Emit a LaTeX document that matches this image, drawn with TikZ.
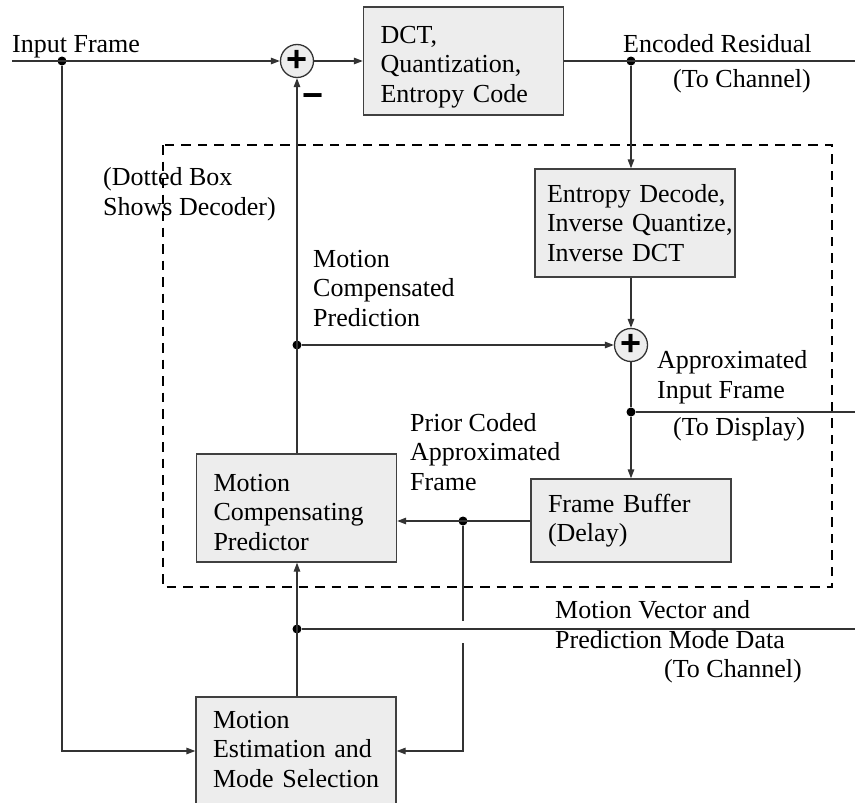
\documentclass[tikz,border=0pt]{standalone}
\usepackage{fontspec}
\setmainfont{Liberation Serif}
\newfontfamily\symfont{Liberation Sans}
\usetikzlibrary{arrows.meta}
\newcommand\nohyph{\hyphenpenalty=10000\exhyphenpenalty=10000\relax}
\begin{document}
\begin{tikzpicture}[x=1pt,y=-1pt,
  font=\fontsize{26}{29.5}\selectfont,
  line/.style={line width=1.3pt, draw=black!80},
  arr/.style={line, -{Triangle[length=9pt,width=6.5pt]}},
  blk/.style={draw=black!75, line width=1.3pt, fill=black!7, align=left,
    inner xsep=17pt, text width=166pt, minimum height=108pt, text height=20pt,
    execute at begin node=\nohyph},
  sum/.style={circle, draw=black!80, line width=1.3pt, fill=black!7, minimum size=33pt,
    inner sep=0pt, font=\symfont\bfseries\fontsize{36}{36}\selectfont},
  dot/.style={circle, fill=black, inner sep=0pt, minimum size=9pt},
  lbl/.style={anchor=base west, align=left, inner sep=0pt},
  frame/.style={line width=2pt, dash pattern=on 9.5pt off 7pt}
]
\useasboundingbox (0,0) rectangle (855,803);
\clip (0,0) rectangle (855,803);

% blocks
\node[blk, text depth=56pt] (dct) at (463.5,61) {DCT,\\Quantization,\\Entropy~Code};
\node[blk, inner xsep=12pt, text width=176pt, text depth=62pt] (ed) at (635,223)
  {Entropy~Decode,\\Inverse~Quantize,\\Inverse~DCT};
\node[blk, minimum height=83pt, text depth=37pt] (fb) at (631,520.5) {Frame~Buffer\\(Delay)};
\node[blk, text depth=54pt] (mcp) at (296.5,508) {Motion\\Compensating\\Predictor};
\node[blk, text depth=66pt] (me) at (296,751) {Motion\\Estimation~and\\Mode~Selection};

% summing junctions
\node[sum] (p1) at (297,61) {\raisebox{-1.5pt}{+}};
\node[sum] (p2) at (631,345) {\raisebox{-1.5pt}{+}};
\node[font=\symfont\bfseries\fontsize{36}{36}\selectfont, inner sep=0pt] (minus) at (313.5,101) {−};

% dots
\node[dot] (dIn) at (62,61) {};
\node[dot] (dER) at (631,61) {};
\node[dot] (dMCP) at (297,345) {};
\node[dot] (dAIF) at (631,412) {};
\node[dot] (dPC) at (463,521) {};
\node[dot] (dMV) at (297,629) {};

% free ends
\coordinate (inL) at (12,61);
\coordinate (erR) at (855,61);
\coordinate (aifR) at (855,412);
\coordinate (mvR) at (855,629);
\coordinate (gapT) at (463,621);
\coordinate (gapB) at (463,643);

% dashed decoder box
\draw[frame] (163,145) rectangle (832,587);

% connectors
\draw[arr] (inL) -- (p1.west);
\draw[arr] (dIn) |- (me.west);
\draw[arr] (p1.east) -- (dct.west |- p1.east);
\draw[line] (dct.east |- p1.east) -- (erR);
\draw[arr] (dER) -- (dER |- ed.north);
\draw[arr] (ed.south -| p2) -- (p2.north);
\draw[arr] (dMCP) -- (p2.west);
\draw[arr] (mcp.north -| dMCP) -- (p1.south);
\draw[line] (p2.south) -- (dAIF);
\draw[line] (dAIF) -- (aifR);
\draw[arr] (dAIF) -- (dAIF |- fb.north);
\draw[arr] (fb.west |- dPC) -- (mcp.east |- dPC);
\draw[line] (dPC) -- (gapT);
\draw[arr] (gapB) |- (me.east);
\draw[arr] (dMV |- me.north) -- (dMV |- mcp.south);
\draw[line] (dMV) -- (mvR);

% labels
\node[lbl] (tIn) at (12,52) {Input Frame};
\node[lbl] (tER) at (623,52) {Encoded Residual};
\node[lbl] (tERc) at (673,87) {(To Channel)};
\node[lbl] (tDB) at (103,215) {(Dotted Box\\Shows Decoder)};
\node[lbl] (tMCP) at (313,326) {Motion\\Compensated\\Prediction};
\node[lbl] (tAIF) at (657,398) {Approximated\\Input Frame};
\node[lbl] (tDisp) at (673,435) {(To Display)};
\node[lbl] (tPC) at (410,490) {Prior Coded\\Approximated\\Frame};
\node[lbl] (tMV) at (555,648) {Motion Vector and\\Prediction Mode Data};
\node[lbl] (tMVc) at (664,677) {(To Channel)};
\end{tikzpicture}
\end{document}
